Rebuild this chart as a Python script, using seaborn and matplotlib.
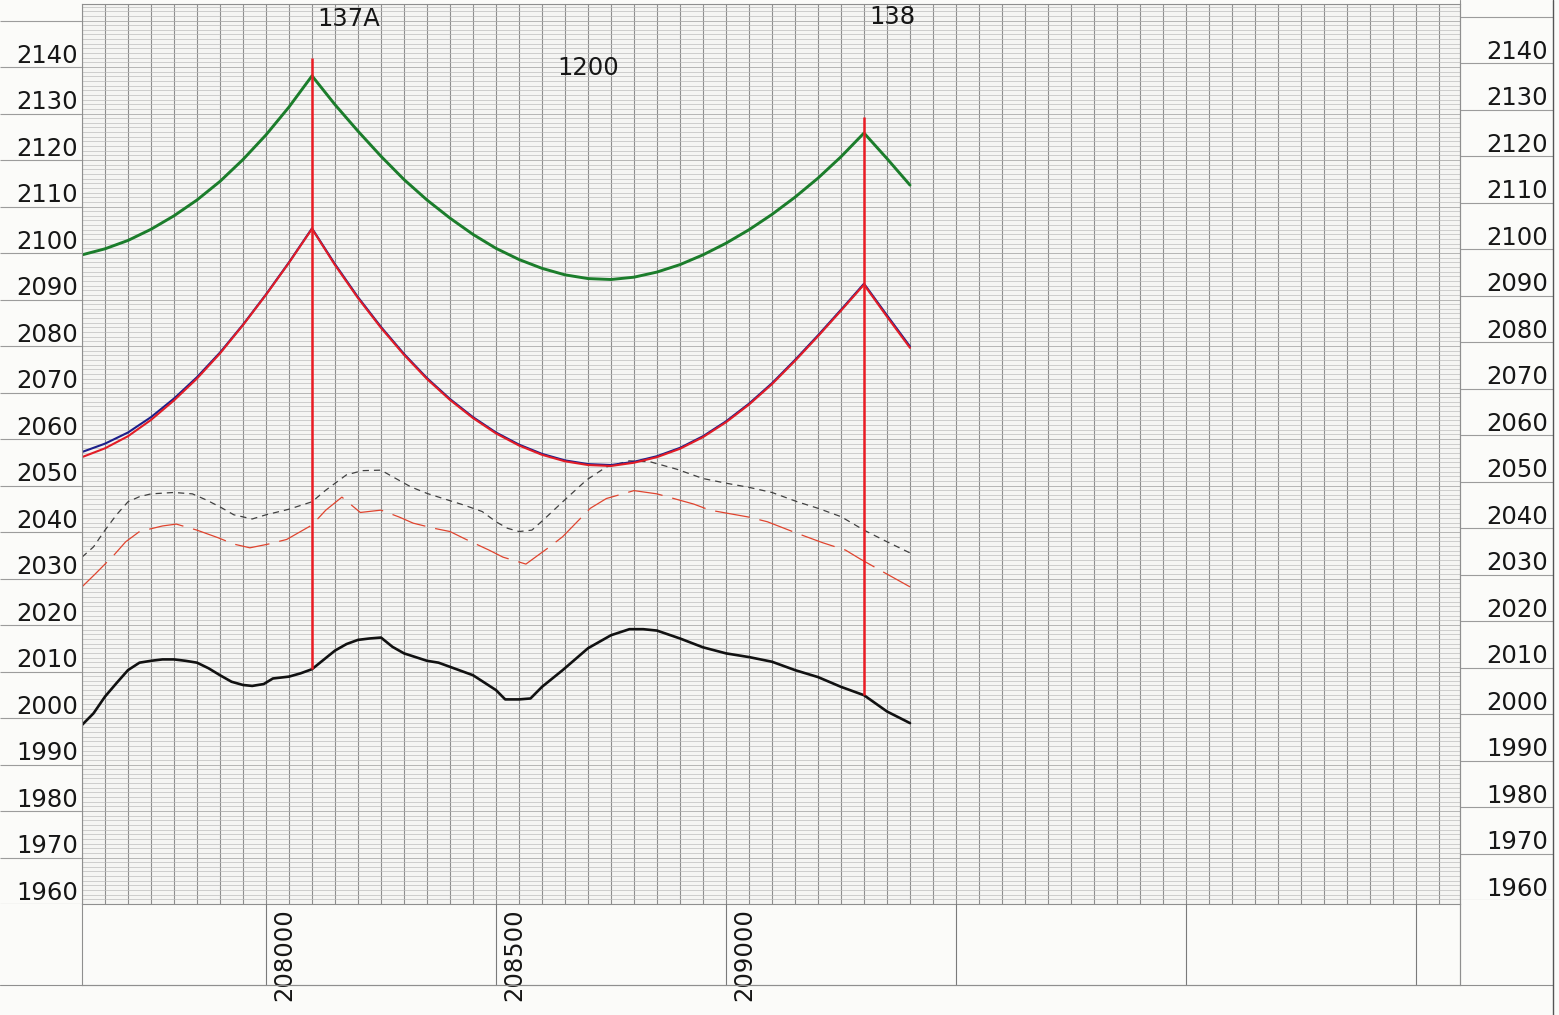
import numpy as np
import pandas as pd
import matplotlib
matplotlib.use("Agg")
import matplotlib.pyplot as plt
import seaborn as sns
from matplotlib.ticker import MultipleLocator
from matplotlib.transforms import blended_transform_factory, ScaledTranslation
from matplotlib.lines import Line2D

# ---------------- data ----------------
cond_station = [207600, 207650, 207700, 207750, 207800, 207850, 207900, 207950,
                208000, 208050, 208100, 208150, 208200, 208250, 208300, 208350,
                208400, 208450, 208500, 208550, 208600, 208650, 208700, 208750,
                208800, 208850, 208900, 208950, 209000, 209050, 209100, 209150,
                209200, 209250, 209300, 209350, 209400]
green_elev = [2099.6, 2100.9, 2102.7, 2105.1, 2108.0, 2111.4, 2115.4, 2120.1,
              2125.4, 2131.4, 2138.1, 2131.9, 2126.2, 2120.8, 2115.8, 2111.4,
              2107.5, 2104.0, 2101.0, 2098.6, 2096.7, 2095.3, 2094.5, 2094.3,
              2094.8, 2095.9, 2097.5, 2099.6, 2102.1, 2105.0, 2108.3, 2112.0,
              2116.1, 2120.7, 2125.8, 2120.3, 2114.6]
red_elev = [2056.1, 2058.0, 2060.6, 2064.1, 2068.3, 2073.0, 2078.4, 2084.5,
            2091.0, 2097.9, 2105.2, 2097.4, 2090.3, 2083.9, 2078.1, 2072.9,
            2068.4, 2064.5, 2061.2, 2058.6, 2056.6, 2055.2, 2054.4, 2054.2,
            2054.9, 2056.1, 2057.9, 2060.4, 2063.6, 2067.4, 2071.8, 2076.8,
            2082.1, 2087.6, 2093.2, 2086.3, 2079.6]
blue_elev = [2057.2, 2059.0, 2061.4, 2064.7, 2068.7, 2073.3, 2078.6, 2084.6,
             2091.1, 2098.0, 2105.3, 2097.6, 2090.5, 2084.1, 2078.3, 2073.1,
             2068.6, 2064.7, 2061.4, 2058.8, 2056.8, 2055.4, 2054.6, 2054.4,
             2055.1, 2056.3, 2058.1, 2060.6, 2063.8, 2067.6, 2072.0, 2077.0,
             2082.3, 2087.8, 2093.4, 2086.6, 2079.9]

ground_station = [207600, 207625, 207650, 207675, 207700, 207725, 207750, 207775,
                  207800, 207825, 207850, 207875, 207900, 207925, 207950, 207970,
                  207995, 208015, 208050, 208075, 208100, 208125, 208150, 208175,
                  208200, 208225, 208250, 208275, 208300, 208350, 208375, 208400,
                  208450, 208500, 208520, 208550, 208575, 208600, 208645, 208700,
                  208750, 208790, 208820, 208850, 208900, 208950, 209000, 209050,
                  209100, 209150, 209200, 209250, 209300, 209350, 209400]
ground_elev = [1998.5, 2001.0, 2004.6, 2007.5, 2010.3, 2011.9, 2012.3, 2012.6,
               2012.6, 2012.3, 2011.9, 2010.7, 2009.2, 2007.8, 2007.1, 2006.9,
               2007.3, 2008.5, 2008.9, 2009.6, 2010.5, 2012.5, 2014.5, 2015.9,
               2016.8, 2017.1, 2017.3, 2015.3, 2013.9, 2012.3, 2011.9, 2011.0,
               2009.2, 2006.0, 2004.0, 2004.0, 2004.2, 2006.7, 2010.3, 2015.0,
               2017.8, 2019.1, 2019.1, 2018.8, 2017.1, 2015.2, 2013.9, 2013.1,
               2012.1, 2010.3, 2008.8, 2006.7, 2004.9, 2001.4, 1998.9]

gray_station = [207600, 207625, 207650, 207675, 207700, 207725, 207750, 207800,
                207840, 207870, 207900, 207930, 207970, 208000, 208050, 208100,
                208130, 208175, 208210, 208250, 208275, 208315, 208350, 208385,
                208430, 208470, 208500, 208525, 208550, 208578, 208603, 208645,
                208697, 208740, 208790, 208835, 208893, 208950, 209000, 209050,
                209100, 209155, 209200, 209250, 209300, 209350, 209400]
gray_elev = [2034.6, 2036.8, 2040.4, 2043.7, 2046.5, 2047.6, 2048.2, 2048.5,
             2048.2, 2046.9, 2045.4, 2043.7, 2042.8, 2043.7, 2044.9, 2046.5,
             2049.0, 2052.3, 2053.2, 2053.3, 2051.9, 2049.7, 2048.3, 2047.2,
             2045.8, 2044.4, 2042.2, 2040.8, 2040.1, 2040.4, 2042.6, 2046.5,
             2051.2, 2054.0, 2055.3, 2055.1, 2053.5, 2051.5, 2050.5, 2049.6,
             2048.5, 2046.5, 2045.1, 2043.3, 2040.4, 2037.9, 2035.5]

reddash_station = [207600, 207630, 207670, 207695, 207725, 207775, 207805, 207850,
                   207895, 207930, 207965, 208005, 208045, 208100, 208130, 208165,
                   208205, 208250, 208290, 208320, 208365, 208400, 208435, 208485,
                   208515, 208565, 208615, 208645, 208705, 208740, 208800, 208850,
                   208930, 208965, 209050, 209090, 209155, 209210, 209260, 209290,
                   209340, 209400]
reddash_elev = [2028.2, 2031.1, 2035.1, 2037.9, 2040.1, 2041.3, 2041.7, 2040.4,
                2038.8, 2037.4, 2036.6, 2037.4, 2038.4, 2041.5, 2044.7, 2047.5,
                2044.2, 2044.7, 2043.2, 2041.9, 2040.8, 2040.1, 2038.4, 2036.1,
                2034.6, 2033.1, 2036.7, 2039.0, 2045.1, 2047.2, 2048.9, 2048.2,
                2046.0, 2044.7, 2043.2, 2042.2, 2039.7, 2037.7, 2036.1, 2034.3,
                2031.5, 2028.2]

tower_names = ["137A", "138"]
tower_station = [208100, 209300]
tower_top = [2142.0, 2129.2]
tower_base = [2010.5, 2005.0]
span_label = "1200"

y_labels = list(range(1960, 2141, 10))
x_labels = [208000, 208500, 209000]

# ---------------- figure ----------------
sns.set_theme(style="white")
plt.rcParams['font.family'] = ['DejaVu Sans']

W, H = 1559, 1015
fig = plt.figure(figsize=(W / 100, H / 100), dpi=100, facecolor='#fbfbf9')


def px_axes(x0, y0, x1, y1):
    return fig.add_axes([x0 / W, 1 - y1 / H, (x1 - x0) / W, (y1 - y0) / H])


PXM = 4.65      # pixels per metre vertical
PXS = 0.46      # pixels per metre horizontal
YMIN = 1960
YMAX = YMIN + 900 / PXM
XMIN = 207600
XMAX = XMIN + 1378 / PXS
FS = 17.5
TXT = '#161616'
LINEC = '#8f8f8f'

# ---- main grid axes ----
ax = px_axes(82, 4, 1460, 904)
ax.set_xlim(XMIN, XMAX)
ax.set_ylim(YMIN, YMAX)
ax.set_facecolor('#f5f5f3')
ax.xaxis.set_minor_locator(MultipleLocator(50))
ax.xaxis.set_major_locator(MultipleLocator(500))
ax.yaxis.set_minor_locator(MultipleLocator(1))
ax.yaxis.set_major_locator(MultipleLocator(10))
ax.grid(which='minor', axis='y', color='#bdbdbd', lw=0.5)
ax.grid(which='major', axis='y', color='#ababab', lw=0.6)
ax.grid(which='both', axis='x', color='#8e8e8e', lw=0.8)
ax.tick_params(which='both', length=0, labelbottom=False, labelleft=False)
for sp in ax.spines.values():
    sp.set_color(LINEC)
    sp.set_linewidth(0.8)
ax.set_axisbelow(True)

# series
sns.lineplot(x=gray_station, y=gray_elev, ax=ax, color='#404040', lw=0.9,
             estimator=None, sort=False)
ax.lines[-1].set_dashes((5, 4))
sns.lineplot(x=reddash_station, y=reddash_elev, ax=ax, color='#e0442e', lw=0.9,
             estimator=None, sort=False)
ax.lines[-1].set_dashes((28, 8))
sns.lineplot(x=ground_station, y=ground_elev, ax=ax, color='#111111', lw=1.9,
             estimator=None, sort=False)
sns.lineplot(x=cond_station, y=green_elev, ax=ax, color='#1b7d2b', lw=2.1,
             estimator=None, sort=False)
sns.lineplot(x=cond_station, y=blue_elev, ax=ax, color='#1c1f8a', lw=1.5,
             estimator=None, sort=False)
sns.lineplot(x=cond_station, y=red_elev, ax=ax, color='#e21c26', lw=1.5,
             estimator=None, sort=False)
ax.vlines(tower_station, tower_base, tower_top, color='#ea1c24', lw=1.8, zorder=5)

# tower / span labels
off = ScaledTranslation(5 / 100, 0, fig.dpi_scale_trans)
for name, st in zip(tower_names, tower_station):
    ax.text(st, 2150.3 if name == "137A" else 2150.7, name, fontsize=FS,
            ha='left', va='center', color=TXT, transform=ax.transData + off)
ax.text(np.mean(tower_station), 2139.8, span_label, fontsize=FS, ha='center',
        va='center', color=TXT)

# ---- left label panel ----
axl = px_axes(0, 4, 82, 904)
axl.set_xlim(0, 82)
axl.set_ylim(YMIN, YMAX)
axl.axis('off')
axl.hlines(list(range(1960, 2151, 10)), 0, 82, color='#9c9c9c', lw=0.8)
for v in y_labels:
    axl.text(78, v + 0.9, str(v), ha='right', va='baseline', fontsize=FS,
             color=TXT)

# ---- right label panel (slightly shifted as in the scan) ----
axr = px_axes(1460, 0, 1553, 900)
axr.set_xlim(0, 93)
axr.set_ylim(YMIN, YMAX)
axr.axis('off')
axr.hlines(list(range(1960, 2151, 10)), 0, 93, color='#9c9c9c', lw=0.8)
for v in y_labels:
    axr.text(88, v + 0.9, str(v), ha='right', va='baseline', fontsize=FS,
             color=TXT)

# ---- bottom station panel ----
axb = px_axes(82, 904, 1460, 985)
axb.set_xlim(XMIN, XMAX)
axb.set_ylim(0, 1)
axb.set_facecolor('none')
axb.xaxis.set_major_locator(MultipleLocator(500))
axb.grid(which='major', axis='x', color='#7a7a7a', lw=0.8)
axb.tick_params(length=0, labelbottom=False, labelleft=False)
axb.spines['top'].set_visible(False)
for k in ['left', 'right', 'bottom']:
    axb.spines[k].set_color(LINEC)
    axb.spines[k].set_linewidth(0.8)
btrans = blended_transform_factory(axb.transData, axb.transAxes) + \
    ScaledTranslation(6 / 100, -4 / 100, fig.dpi_scale_trans)
for s in x_labels:
    axb.text(s, 1.0, str(s), rotation=90, ha='left', va='top', fontsize=FS,
             color=TXT, transform=btrans, clip_on=False)

# outer frame lines
yb = 1 - 985 / H
fig.add_artist(Line2D([0, 1553 / W], [yb, yb], color=LINEC, lw=0.8))
fig.add_artist(Line2D([1553 / W, 1553 / W], [0, 1], color='#555555', lw=1.0))
fig.add_artist(Line2D([1460 / W, 1460 / W], [yb, 1], color=LINEC, lw=0.8))

fig.savefig("out.png", dpi=100, facecolor=fig.get_facecolor())
